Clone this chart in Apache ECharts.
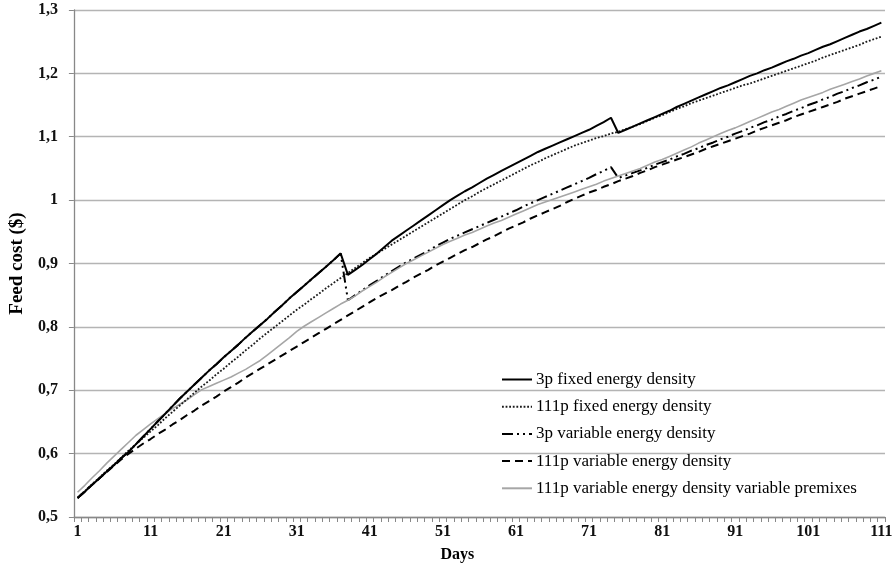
<!DOCTYPE html>
<html>
<head>
<meta charset="utf-8">
<script src="https://cdn.jsdelivr.net/npm/echarts@6/dist/echarts.min.js"></script>
<style>
  html, body { margin: 0; padding: 0; background: #ffffff; }
  #chart { width: 896px; height: 573px; }
</style>
</head>
<body>
<div id="chart"></div>
<script>
// Days of the feeding period (1 … 111)
const days = Array.from({ length: 111 }, (_, i) => String(i + 1));

// Y-axis tick labels (decimal comma)
const yTickLabels = { '0.5': '0,5', '0.6': '0,6', '0.7': '0,7', '0.8': '0,8', '0.9': '0,9',
                      '1': '1', '1.1': '1,1', '1.2': '1,2', '1.3': '1,3' };

const seriesNames = [
  '3p fixed energy density',
  '111p fixed energy density',
  '3p variable energy density',
  '111p variable energy density',
  '111p variable energy density variable premixes'
];

// Feed cost ($) per day
const fixed3p = [
  .530, .540, .551, .561, .572, .582, .593, .603, .615, .627,
  .639, .651, .663, .675, .687, .698, .709, .720, .731, .741,
  .752, .762, .772, .783, .793, .803, .813, .824, .834, .845,
  .855, .865, .875, .885, .895, .905, .916, .882, .890, .898,
  .907, .916, .926, .936, .944, .952, .960, .968, .976, .984,
  .992, 1.000, 1.007, 1.014, 1.020, 1.027, 1.034, 1.040, 1.046, 1.052,
  1.058, 1.064, 1.070, 1.076, 1.081, 1.086, 1.091, 1.096, 1.101, 1.106,
  1.111, 1.117, 1.123, 1.130, 1.106, 1.111, 1.116, 1.121, 1.126, 1.131,
  1.136, 1.141, 1.147, 1.152, 1.157, 1.162, 1.167, 1.172, 1.177, 1.181,
  1.186, 1.191, 1.196, 1.200, 1.205, 1.209, 1.214, 1.219, 1.223, 1.228,
  1.232, 1.237, 1.242, 1.246, 1.251, 1.256, 1.261, 1.266, 1.270, 1.275,
  1.280
];

const fixed111p = [
  .530, .541, .552, .562, .573, .583, .594, .605, .615, .625,
  .635, .645, .656, .666, .676, .686, .696, .706, .715, .725,
  .734, .744, .753, .763, .772, .782, .791, .800, .809, .818,
  .827, .835, .844, .852, .861, .869, .877, .885, .893, .901,
  .909, .916, .923, .930, .937, .944, .951, .958, .965, .972,
  .979, .986, .993, 1.000, 1.006, 1.013, 1.019, 1.025, 1.031, 1.037,
  1.043, 1.049, 1.055, 1.060, 1.066, 1.071, 1.076, 1.081, 1.086, 1.090,
  1.094, 1.098, 1.101, 1.105, 1.108, 1.112, 1.116, 1.120, 1.125, 1.130,
  1.134, 1.139, 1.144, 1.148, 1.153, 1.157, 1.161, 1.165, 1.169, 1.173,
  1.177, 1.181, 1.184, 1.188, 1.192, 1.196, 1.200, 1.204, 1.208, 1.212,
  1.216, 1.220, 1.225, 1.229, 1.233, 1.237, 1.241, 1.245, 1.250, 1.254,
  1.258
];

// first phase (days 1–37) runs on the same premix as the 3p fixed plan
const variable3p = [
  .530, .540, .551, .561, .572, .582, .593, .603, .615, .627,
  .639, .651, .663, .675, .687, .698, .709, .720, .731, .741,
  .752, .762, .772, .783, .793, .803, .813, .824, .834, .845,
  .855, .865, .875, .885, .895, .905, .916, .842, .850, .858,
  .866, .873, .881, .888, .895, .902, .908, .914, .920, .927,
  .933, .939, .944, .949, .954, .959, .964, .969, .974, .979,
  .984, .990, .995, 1.000, 1.005, 1.010, 1.015, 1.020, 1.025, 1.030,
  1.035, 1.041, 1.046, 1.052, 1.035, 1.039, 1.043, 1.047, 1.051, 1.056,
  1.060, 1.064, 1.069, 1.073, 1.078, 1.082, 1.087, 1.091, 1.096, 1.100,
  1.105, 1.109, 1.114, 1.118, 1.123, 1.127, 1.132, 1.136, 1.141, 1.145,
  1.150, 1.154, 1.159, 1.163, 1.168, 1.172, 1.177, 1.181, 1.186, 1.190,
  1.195
];

const variable111p = [
  .530, .541, .551, .561, .571, .581, .591, .600, .608, .616,
  .623, .631, .638, .646, .653, .661, .668, .676, .683, .690,
  .698, .705, .712, .720, .727, .734, .741, .748, .755, .762,
  .769, .776, .783, .790, .797, .804, .811, .818, .825, .832,
  .839, .846, .852, .858, .865, .871, .878, .884, .890, .897,
  .903, .909, .915, .921, .926, .932, .938, .943, .949, .955,
  .960, .965, .971, .976, .981, .986, .991, .997, 1.002, 1.007,
  1.012, 1.016, 1.021, 1.025, 1.030, 1.034, 1.038, 1.043, 1.047, 1.052,
  1.056, 1.060, 1.064, 1.068, 1.072, 1.076, 1.081, 1.085, 1.089, 1.093,
  1.097, 1.101, 1.105, 1.110, 1.114, 1.118, 1.122, 1.126, 1.131, 1.135,
  1.139, 1.143, 1.147, 1.151, 1.155, 1.160, 1.164, 1.168, 1.172, 1.176,
  1.180
];

const variablePremix111p = [
  .539, .550, .562, .573, .585, .596, .607, .618, .629, .638,
  .647, .655, .663, .671, .678, .685, .693, .701, .706, .711,
  .716, .721, .727, .733, .740, .747, .756, .765, .774, .783,
  .793, .801, .808, .815, .822, .829, .836, .842, .849, .857,
  .864, .871, .879, .886, .893, .900, .906, .912, .918, .924,
  .930, .935, .940, .945, .949, .954, .959, .964, .968, .973,
  .978, .983, .988, .993, .997, 1.001, 1.005, 1.009, 1.013, 1.017,
  1.021, 1.025, 1.030, 1.034, 1.038, 1.042, 1.046, 1.050, 1.055, 1.060,
  1.064, 1.069, 1.074, 1.079, 1.084, 1.090, 1.095, 1.100, 1.105, 1.110,
  1.114, 1.119, 1.124, 1.129, 1.134, 1.139, 1.143, 1.148, 1.153, 1.158,
  1.162, 1.166, 1.170, 1.175, 1.179, 1.183, 1.187, 1.191, 1.196, 1.200,
  1.204
];

const FONT = '"Liberation Serif", "Times New Roman", serif';
const chart = echarts.init(document.getElementById('chart'), null, { renderer: 'canvas' });

function lineSeries(name, data, color, width, type, z) {
  return {
    name: name,
    type: 'line',
    data: data,
    symbol: 'none',
    showSymbol: false,
    smooth: false,
    z: z,
    lineStyle: { color: color, width: width, type: type, cap: 'butt' },
    itemStyle: { color: color },
    emphasis: { disabled: true }
  };
}

chart.setOption({
  animation: false,
  backgroundColor: '#ffffff',
  grid: { left: 73, right: 11, top: 10, bottom: 56, containLabel: false },
  legend: {
    orient: 'vertical',
    left: 496,
    top: 366,
    itemWidth: 30,
    itemHeight: 14,
    itemGap: 10.2,
    // legend keys show only the line pattern
    itemStyle: { color: 'rgba(0,0,0,0)', borderColor: 'rgba(0,0,0,0)', borderWidth: 0 },
    textStyle: { fontFamily: FONT, fontSize: 17, color: '#000', lineHeight: 14, padding: [0, 0, 0, -1] },
    data: seriesNames
  },
  xAxis: {
    type: 'category',
    data: days,
    boundaryGap: true,
    name: 'Days',
    nameLocation: 'middle',
    nameGap: 30,
    nameTextStyle: { fontFamily: FONT, fontSize: 16, fontWeight: 'bold', color: '#000', padding: [0, 44, 0, 0] },
    axisLine: { lineStyle: { color: '#888888', width: 1.3 } },
    axisTick: { show: true, interval: 0, length: 5, lineStyle: { color: '#888888', width: 1 } },
    axisLabel: { interval: 9, margin: 7, fontFamily: FONT, fontSize: 16, fontWeight: 'bold', color: '#111' },
    splitLine: { show: false }
  },
  yAxis: {
    type: 'value',
    min: 0.5,
    max: 1.3,
    interval: 0.1,
    name: 'Feed cost ($)',
    nameLocation: 'middle',
    nameGap: 46,
    nameRotate: 90,
    nameTextStyle: { fontFamily: FONT, fontSize: 19, fontWeight: 'bold', color: '#000' },
    axisLine: { show: true, lineStyle: { color: '#888888', width: 1.3 } },
    axisTick: { show: true, length: 5, lineStyle: { color: '#888888', width: 1 } },
    axisLabel: {
      margin: 16,
      fontFamily: FONT, fontSize: 16, fontWeight: 'bold', color: '#111',
      formatter: v => yTickLabels[String(Math.round(v * 10) / 10)]
    },
    splitLine: { show: true, lineStyle: { color: '#b4b4b4', width: 1.4 } }
  },
  series: [
    lineSeries(seriesNames[0], fixed3p, '#000000', 2, 'solid', 5),
    lineSeries(seriesNames[1], fixed111p, '#1a1a1a', 1.8, [1.8, 1.8], 4),
    lineSeries(seriesNames[2], variable3p, '#000000', 2, [11, 4, 2, 4, 2, 4], 2),
    lineSeries(seriesNames[3], variable111p, '#000000', 2, [8, 5], 3),
    lineSeries(seriesNames[4], variablePremix111p, '#a6a6a6', 1.6, 'solid', 3)
  ]
});
</script>
</body>
</html>
